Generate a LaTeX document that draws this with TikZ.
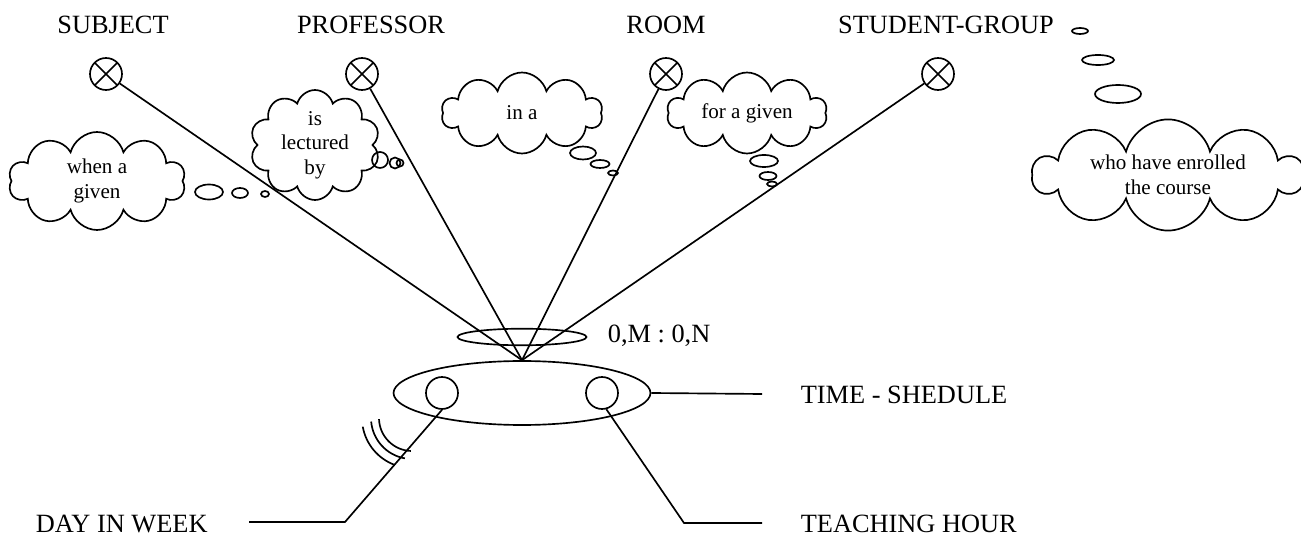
\documentclass[tikz,border=0pt]{standalone}
\usepackage{fontspec}
\setmainfont{Liberation Serif}
\usetikzlibrary{shapes.geometric, shapes.symbols}
\tikzset{
  lbl/.style     = {font=\fontsize{15}{18}\selectfont, inner sep=0pt},
  ent/.style     = {draw, circle, minimum size=0.64cm, inner sep=0pt,
                    path picture={\draw (path picture bounding box.south west) -- (path picture bounding box.north east)
                                        (path picture bounding box.north west) -- (path picture bounding box.south east);}},
  att/.style     = {draw, circle, minimum size=0.64cm, inner sep=0pt},
  thought/.style = {draw, cloud, cloud puffs=10, cloud ignores aspect, align=center,
                    inner sep=1pt, font=\fontsize{12}{14}\selectfont}
}

\begin{document}
\begin{tikzpicture}[x=0.02cm, y=-0.02cm, line width=0.95pt]
  \useasboundingbox (0,0) rectangle (1301,536);
  % entity sets
  \node[lbl, anchor=base] (subjl) at (113,34) {SUBJECT};
  \node[lbl, anchor=base] (profl) at (371,34) {PROFESSOR};
  \node[lbl, anchor=base] (rooml) at (666,34) {ROOM};
  \node[lbl, anchor=base] (studl) at (946,34) {STUDENT-GROUP};
  \node[ent] (subj) at (106,74) {};
  \node[ent] (prof) at (362,74) {};
  \node[ent] (room) at (666,74) {};
  \node[ent] (stud) at (938,74) {};
  % relationship set with its attributes
  \node[draw, ellipse, minimum width=5.14cm, minimum height=1.28cm] (ts) at (522,393) {};
  \node[draw, ellipse, minimum width=2.58cm, minimum height=0.3cm] (card) at (522,337) {};
  \node[att] (day)  at (442,393) {};
  \node[att] (hour) at (602,393) {};
  \node[lbl, anchor=base west] (cardl) at (607,343) {0,M : 0,N};
  \node[lbl, anchor=base west] (tsl)   at (800,404) {TIME - SHEDULE};
  \node[lbl, anchor=base west] (hourl) at (800,532) {TEACHING HOUR};
  \node[lbl, anchor=base west] (dayl)  at (35,532)  {DAY IN WEEK};
  \coordinate (tsend)   at (762,394);
  \coordinate (hourk)   at (684,523);
  \coordinate (hourend) at (762,523);
  \coordinate (dayk)    at (345,522);
  \coordinate (dayend)  at (249,522);

  \foreach \e in {subj,prof,room,stud}
    \draw (\e) -- (ts.north);
  \draw (ts.east) -- (tsend);
  \draw (day.south) -- (dayk) -- (dayend);
  \draw (hour.-75) -- (hourk) -- (hourend);
  \foreach \r/\a/\b in {50/170/110, 41/175/100, 33/178/92}
    \draw ([shift={(\a:\r)}]412,418) arc[start angle=\a, end angle=\b, radius=\r];

  % thought clouds
  \node[thought, minimum width=3.54cm, minimum height=1.96cm] (wag) at (97,181) {when a\\given};
  \node[thought, minimum width=2.6cm, minimum height=2.2cm, inner sep=-6pt] (ilb) at (315,145) {is\\lectured\\by};
  \node[thought, minimum width=3.22cm, minimum height=1.62cm] (ina) at (522,113) {in a};
  \node[thought, minimum width=3.2cm, minimum height=1.62cm] (fag) at (747,113) {for a given};
  \node[thought, minimum width=5.4cm, minimum height=2.2cm] (who) at (1168,175) {who have enrolled\\the course};
  \foreach \x/\y/\rx/\ry in {209/192/14/7.5, 240/193/8/5, 265/194/4/3,
                             380/160/8/8, 395/163/5.5/5.5, 400/163/3.5/3.5,
                             583/153/13/6.5, 600/164/9.5/4, 613/173/5/2.5,
                             764/161/14/6, 768/176/8.5/4, 772/184/5/2.5,
                             1080/31/8/3, 1098/60/16/5, 1118/94/23/9}
    \draw (\x,\y) ellipse [x radius=\rx, y radius=\ry];
\end{tikzpicture}
\end{document}
